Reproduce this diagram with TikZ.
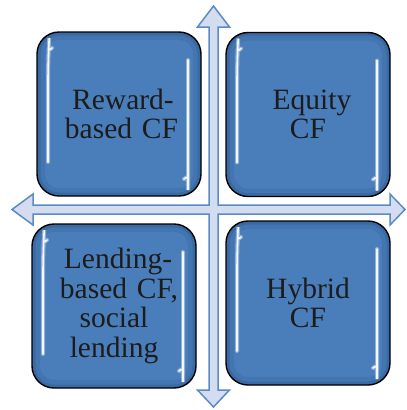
\documentclass[tikz,border=0pt]{standalone}
\usepackage{fontspec}
\setmainfont{Liberation Serif}
\usetikzlibrary{calc}
\definecolor{boxblue}{HTML}{4A7EBB}
\definecolor{boxedge}{HTML}{1F4A80}
\definecolor{axisline}{HTML}{5B8BC6}
\definecolor{axisfill}{HTML}{D3DDEF}
\definecolor{ink}{HTML}{1C1C1C}
\begin{document}
\begin{tikzpicture}[x=1pt,y=-1pt,
  axisarrow/.style={draw=axisline, fill=axisfill, line width=1.5pt, line join=miter},
  gloss/.style={
    path picture={
      \coordinate (pnw) at (path picture bounding box.north west);
      \coordinate (pne) at (path picture bounding box.north east);
      \coordinate (psw) at (path picture bounding box.south west);
      \coordinate (pse) at (path picture bounding box.south east);
      % inner shadow along the rim
      \draw[boxedge, opacity=0.16, line width=16pt, rounded corners=22pt] (pnw) rectangle (pse);
      \draw[boxedge, opacity=0.25, line width=7pt, rounded corners=22pt] (pnw) rectangle (pse);
      % glossy highlight strips, left and right
      \foreach \w/\o in {4pt/0.4, 1.6pt/0.9} {
        \draw[white, opacity=\o, line width=\w, line cap=round]
          ([xshift=15pt,yshift=-16pt]pnw) .. controls ([xshift=11.5pt,yshift=-19pt]pnw) .. ([xshift=11pt,yshift=-28pt]pnw)
          -- ([xshift=11pt,yshift=34pt]psw);
        \draw[white, opacity=\o, line width=\w, line cap=round]
          ([xshift=-13pt,yshift=-28pt]pne) -- ([xshift=-13pt,yshift=28pt]pse)
          .. controls ([xshift=-13pt,yshift=20pt]pse) .. ([xshift=-17pt,yshift=17pt]pse);
      }
    }},
  quadrant/.style={gloss, draw=black, line width=1.4pt, fill=boxblue,
    rounded corners=22pt, minimum width=164pt, minimum height=164pt,
    text width=156pt, align=center, inner sep=0pt, text=ink,
    font=\fontsize{29.5}{29.5}\selectfont},
]
\useasboundingbox (0,0) rectangle (407,410);

% four-way axis arrow
\draw[axisarrow]
  (213.5,6) -- (229.5,27) -- (218,27) -- (218,205) -- (390,205) -- (390,194)
  -- (405,209.5) -- (390,225) -- (390,214) -- (218,214) -- (218,390)
  -- (229.5,390) -- (213.5,407) -- (197.5,390) -- (209,390) -- (209,214)
  -- (33,214) -- (33,225) -- (12,209.5) -- (33,194) -- (33,205) -- (209,205)
  -- (209,27) -- (197.5,27) -- cycle;

% quadrants
\node[quadrant] (reward)  at (119,114)   {\hspace*{8pt}Reward-\\\hspace*{5pt}based CF};
\node[quadrant] (equity)  at (308,114.5) {\hspace*{8pt}Equity\\CF};
\node[quadrant] (lending) at (114,306)   {\hspace*{8pt}Lending-\\\hspace*{10pt}based CF,\\social\\lending};
\node[quadrant] (hybrid)  at (308,303)   {Hybrid\\CF};
\end{tikzpicture}
\end{document}
